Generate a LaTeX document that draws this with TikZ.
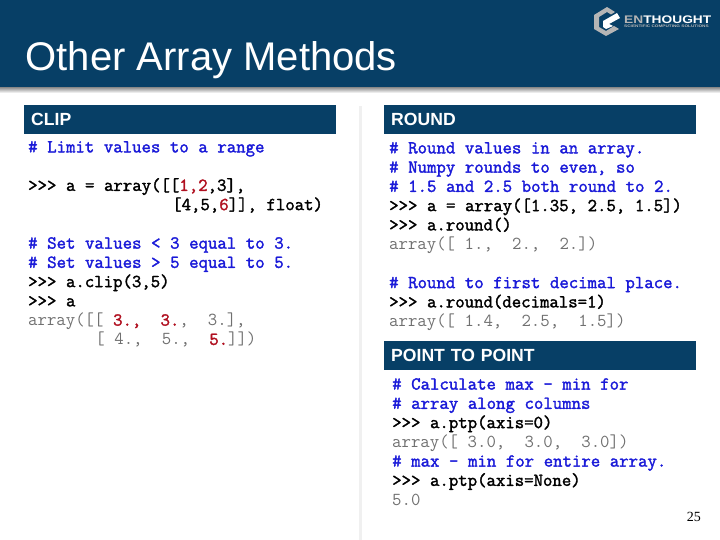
\documentclass[tikz,border=0pt]{standalone}
\usepackage{graphicx}
\usepackage{fontspec}
\setmainfont{Liberation Sans}
\setmonofont{Latin Modern Mono}
\newfontfamily\codebold[FakeBold=1.8]{Latin Modern Mono}
\newfontfamily\timesfont{Liberation Serif}
\usetikzlibrary{positioning}
\usetikzlibrary{calc}
\definecolor{bandblue}{HTML}{073F66}
\definecolor{cmtblue}{HTML}{1A1AD8}
\definecolor{numred}{HTML}{B01020}
\definecolor{outgray}{HTML}{707070}
\definecolor{logogray}{HTML}{B5B5B5}
\newcommand{\cmt}[1]{\textcolor{cmtblue}{\codebold #1}}
\newcommand{\num}[1]{\textcolor{numred}{\codebold #1}}
\newcommand{\cmd}[1]{\textcolor{black}{\codebold #1}}
\newcommand{\res}[1]{\textcolor{outgray}{#1}}
\newcommand{\codesp}{\spaceskip=9.6pt\relax}
\tikzset{
    header/.style={fill=bandblue, text=white, font=\fontsize{17.6}{20}\selectfont\bfseries,
        minimum width=312pt, minimum height=29pt, inner sep=0pt, inner xsep=7pt, text width=298pt, align=left},
    code/.style={inner sep=0pt, text width=320pt, align=left,
        font=\fontsize{18.28}{19.25}\selectfont\ttfamily}
}
\begin{document}
\begin{tikzpicture}[x=1pt,y=-1pt]
    \useasboundingbox (0,0) rectangle (720,540);
    % title band
    \shade[top color=black!55, bottom color=white] (0,86) rectangle (720,93);
    \fill[bandblue] (0,0) rectangle (720,87);
    \node[anchor=base west, inner sep=0pt, text=white, font=\fontsize{40}{44}\selectfont] (title) at (25.5,71) {Other Array Methods};
    % logo
    \fill[logogray] (607,7) -- (594,15) -- (594,29) -- (606,36) -- (619,29) -- (614,26) -- (606,31) -- (599,27) -- (599,17) -- (607,12) -- (611,14.5) -- (615,12) -- cycle;
    \fill[white] (603,21) -- (617,13) -- (620,18) -- (609,24) -- (613,26) -- (606,29) -- (603,27) -- cycle;
    \node[anchor=base west, inner sep=0pt, text=white, font=\fontsize{11}{12}\selectfont\bfseries] (logotext) at (624,23.3) {\scalebox{1.25}[1]{\textcolor{logogray}{EN}THOUGHT}};
    \node[anchor=base west, inner sep=0pt, text=logogray, font=\fontsize{3.6}{4}\selectfont\bfseries] (logosub) at (624,27.5) {\scalebox{1.3}[1]{SCIENTIFIC COMPUTING SOLUTIONS}};
    % divider
    \fill[black!6] (359,106) rectangle (362,540);
    % left column
    \node[header, anchor=north west] (clip) at (24,105) {CLIP};
    \node[code, anchor=north west] (clipcode) at (28,141) {\codesp
        \cmt{\#~Limit values to a range}\\[19.25pt]
        \cmd{>{}>{}>~a = array([[\num{1,2},3],}\\
        \cmd{~~~~~~~~~~~~~~~[4,5,\num{6}]], float)}\\[19.25pt]
        \cmt{\#~Set values < 3 equal to 3.}\\
        \cmt{\#~Set values > 5 equal to 5.}\\
        \cmd{>{}>{}>~a.clip(3,5)}\\
        \cmd{>{}>{}>~a}\\
        \res{array([[~\num{3.,}~~\num{3.},~~3.],}\\
        \res{~~~~~~~[~4.,~~5.,~~\num{5.}]])}};
    % right column
    \node[header, anchor=north west] (round) at (384,105) {ROUND};
    \node[code, anchor=north west] (roundcode) at (389,142) {\codesp
        \cmt{\#~Round values in an array.}\\
        \cmt{\#~Numpy rounds to even, so}\\
        \cmt{\#~1.5 and 2.5 both round to 2.}\\
        \cmd{>{}>{}>~a = array([1.35, 2.5, 1.5])}\\
        \cmd{>{}>{}>~a.round()}\\
        \res{array([~1.,~~2.,~~2.])}\\[19.25pt]
        \cmt{\#~Round to first decimal place.}\\
        \cmd{>{}>{}>~a.round(decimals=1)}\\
        \res{array([~1.4,~~2.5,~~1.5])}};
    \node[header, anchor=north west] (ptp) at (384,341) {POINT TO POINT};
    \node[code, anchor=north west] (ptpcode) at (392,378) {\codesp
        \cmt{\#~Calculate max - min for}\\
        \cmt{\#~array along columns}\\
        \cmd{>{}>{}>~a.ptp(axis=0)}\\
        \res{array([~3.0,~~3.0,~~3.0])}\\
        \cmt{\#~max - min for entire array.}\\
        \cmd{>{}>{}>~a.ptp(axis=None)}\\
        \res{5.0}};
    \node[anchor=base east, inner sep=0pt, font=\fontsize{14}{16}\selectfont\timesfont] (pagenum) at (701,521) {25};
\end{tikzpicture}
\end{document}
